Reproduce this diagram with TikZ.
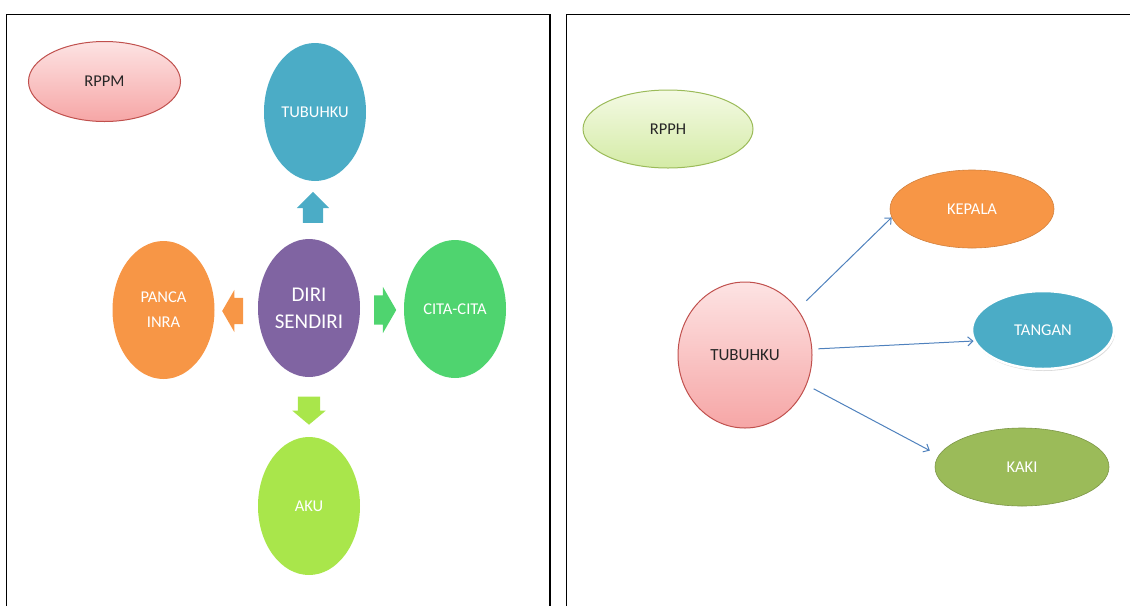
\documentclass[tikz,border=0pt]{standalone}
\usepackage{fontspec}
\setmainfont{Carlito}
\usetikzlibrary{shapes.geometric,shapes.arrows,arrows.meta,shadows}
\definecolor{ofcaqua}{HTML}{4BACC6}
\definecolor{ofcpurple}{HTML}{8064A2}
\definecolor{ofcorange}{HTML}{F79646}
\definecolor{ofcgreen}{HTML}{4FD46F}
\definecolor{ofclime}{HTML}{A9E64B}
\definecolor{ofcolive}{HTML}{9BBB59}
\definecolor{ofcblue}{HTML}{4F81BD}
\definecolor{pinktop}{HTML}{FDE3E3}
\definecolor{pinkbot}{HTML}{F6A6A6}
\definecolor{pinkline}{HTML}{C0504D}
\definecolor{limetop}{HTML}{F4FAE4}
\definecolor{limebot}{HTML}{D4EBA6}
\definecolor{darktext}{HTML}{262626}

\begin{document}
\begin{tikzpicture}[x=1pt,y=-1pt,
        bubble/.style={ellipse,minimum width=102pt,minimum height=138pt,
            inner sep=0pt,text=white,align=center,
            font=\fontsize{16.5}{25}\selectfont},
        oval/.style={ellipse,minimum width=#1,minimum height=78pt,
            inner sep=0pt,font=\fontsize{16.5}{19}\selectfont},
        oval/.default=164pt,
        pinkfill/.style={top color=pinktop,bottom color=pinkbot,
            draw=pinkline,line width=1pt,text=darktext},
        blockarr/.style={single arrow,inner xsep=0pt,inner ysep=#1,draw=none},
        link/.style={draw=ofcblue,line width=1pt,
            -{Straight Barb[length=5pt,width=9pt]}},
        panel/.style={line width=1.4pt}
    ]
        \useasboundingbox (0,0) rectangle (1130,606);
        \draw[panel] (6.5,606) -- (6.5,14.5) -- (550,14.5) -- (550,606);
        \draw[panel] (566.5,606) -- (566.5,14.5) -- (1130,14.5);

        \node[oval=152pt,minimum height=80pt,pinkfill] (rppm) at (104.5,81.5) {RPPM};
        \node[bubble,fill=ofcaqua] (tubuhL) at (315,112) {TUBUHKU};
        \node[bubble,fill=ofcpurple,font=\fontsize{21}{27}\selectfont] (diri) at (309,308) {DIRI\\SENDIRI};
        \node[bubble,fill=ofcorange] (panca) at (163.5,310) {PANCA\\INRA};
        \node[bubble,fill=ofcgreen] (cita) at (455,309) {CITA-CITA};
        \node[bubble,fill=ofclime] (aku) at (309,506) {AKU};

        \node[blockarr=10pt,fill=ofcaqua,rotate=90,minimum height=31pt,
            single arrow head extend=6pt,single arrow tip angle=90] (uparr) at (313,212.5) {};
        \node[blockarr=11pt,fill=ofclime,rotate=-90,minimum height=28pt,
            single arrow head extend=5.5pt,single arrow tip angle=100] (downarr) at (309,406) {};
        \node[blockarr=13pt,fill=ofcorange,rotate=180,minimum height=21pt,
            single arrow head extend=8pt,single arrow tip angle=120] (leftarr) at (236.5,311) {};
        \node[blockarr=14.5pt,fill=ofcgreen,minimum height=22pt,
            single arrow head extend=8.5pt,single arrow tip angle=120] (rightarr) at (381,310) {};

        \node[oval=170pt,top color=limetop,bottom color=limebot,draw=ofcolive,
            line width=1pt,text=darktext] (rpph) at (668,129) {RPPH};
        \node[ellipse,minimum width=134pt,minimum height=146pt,inner sep=0pt,
            font=\fontsize{17}{20}\selectfont,pinkfill] (tubuhR) at (745,355) {TUBUHKU};
        \node[oval=164pt,fill=ofcorange,draw=ofcorange!85!black,line width=0.6pt,
            text=white] (kepala) at (972,209) {KEPALA};
        \node[oval=142pt,fill=ofcaqua,draw=white,line width=2.5pt,text=white,
            drop shadow={shadow xshift=1pt,shadow yshift=-2pt,opacity=0.3}] (tangan) at (1043,330) {TANGAN};
        \node[oval=174pt,fill=ofcolive,draw=ofcolive!80!black,line width=0.6pt,
            text=white] (kaki) at (1022,467) {KAKI};

        \draw[link,shorten <=12pt] (tubuhR.41) -- (kepala.186);
        \draw[link,shorten <=6pt] (tubuhR.5.5) -- (tangan.189);
        \draw[link,shorten <=8pt,shorten >=10pt] (tubuhR.-26) -- (kaki.172);
    \end{tikzpicture}
\end{document}
